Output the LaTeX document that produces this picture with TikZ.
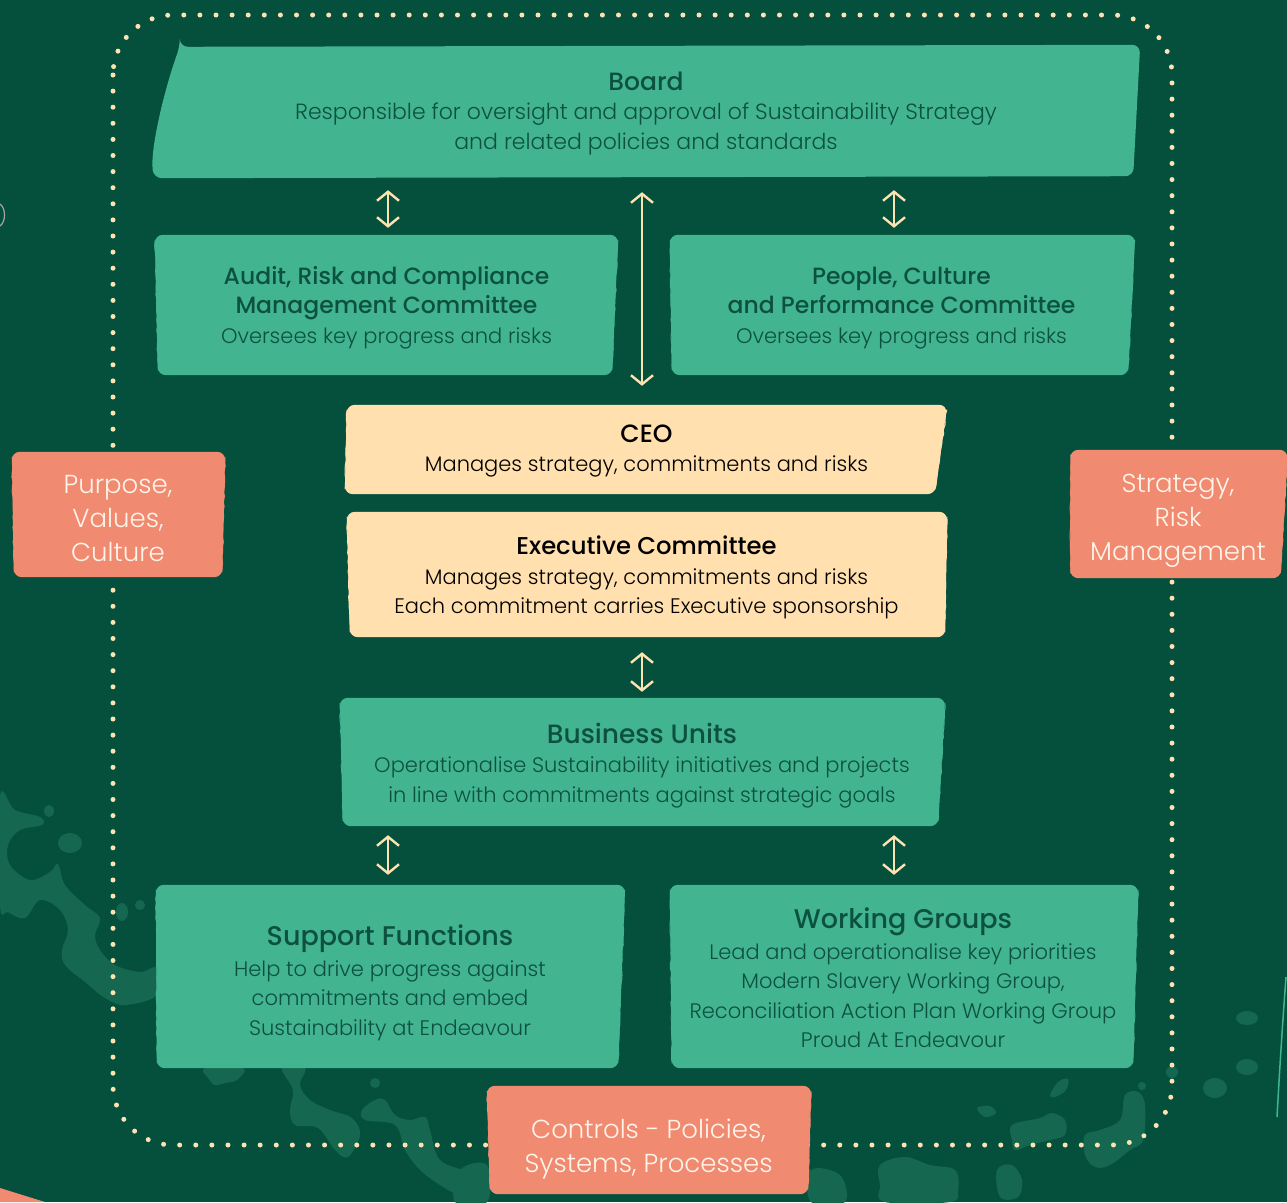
\documentclass[tikz,border=0pt]{standalone}
\usepackage{fontspec}
\setmainfont{Poppins Light}
\newfontfamily\medf{Poppins Medium}
\usetikzlibrary{arrows.meta,calc,decorations.pathmorphing}
\pgfdeclarelayer{backg}
\pgfdeclarelayer{boxes}
\pgfsetlayers{backg,boxes,main}
\definecolor{bgc}{HTML}{04503D}
\definecolor{boxg}{HTML}{42B48F}
\definecolor{boxtxt}{HTML}{0C5140}
\definecolor{creamc}{HTML}{FFE0AE}
\definecolor{salmonc}{HTML}{F08A70}
\definecolor{salmontxt}{HTML}{FFF4EA}
\definecolor{dotcol}{HTML}{FDE3B1}
\definecolor{blobc}{HTML}{15684F}
\tikzset{
  tealbox/.style={inner sep=0pt, text=boxtxt, align=center,
    font=\fontsize{21}{29.5}\selectfont},
  yellowbox/.style={inner sep=0pt, text=black, align=center,
    font=\fontsize{21}{29.5}\selectfont},
  salmonbox/.style={inner sep=0pt, text=salmontxt, align=center,
    font=\fontsize{26}{34}\selectfont},
  dar/.style={draw=dotcol, line width=2.4pt,
    {Straight Barb[length=9pt,width=22pt,line width=2.4pt]}-{Straight Barb[length=9pt,width=22pt,line width=2.4pt]}},
  blob/.style={fill=blobc},
  frame/.style={draw=dotcol, line width=5pt, line cap=round, dash pattern=on 0pt off 16.1pt, rounded corners=60pt},
  rough/.style={line width=1pt, decorate, decoration={random steps, segment length=5pt, amplitude=0.7pt}}
}
\newcommand{\ttl}[2][25]{{\medf\fontsize{#1}{29.5}\selectfont #2}}
\newcommand{\tb}[2]{\raisebox{-#1pt}[\height][\depth]{\begin{tabular}{@{}c@{}}#2\end{tabular}}}
% brush-like box fill behind node: node, colour, insets tl, tr, br, bl
\newcommand{\brush}[6]{%
  \begin{pgfonlayer}{boxes}
  \fill[#2, rounded corners=8pt] ($(#1.north west)+(#3,0)$) -- ($(#1.north east)+(-#4,0)$)
     -- ($(#1.south east)+(-#5,0)$) -- ($(#1.south west)+(#6,0)$) -- cycle;
  \draw[#2, rough] ($(#1.north east)+(-#4-0.4,5)$) -- ($(#1.south east)+(-#5-0.4,-5)$);
  \draw[#2, rough] ($(#1.south west)+(#6+0.4,-5)$) -- ($(#1.north west)+(#3+0.4,5)$);
  \end{pgfonlayer}}
\begin{document}
\begin{tikzpicture}[x=1pt,y=-1pt]
\useasboundingbox (0,0) rectangle (1287,1202);
\begin{pgfonlayer}{backg}
\fill[bgc] (0,0) rectangle (1287,1202);
% decorative blobs
\fill[blob] plot[smooth cycle, tension=0.6] coordinates {(0,796) (15,810) (40,817) (42,825) (20,830) (8,845) (10,865) (30,880) (50,872) (58,864) (65,885) (85,905) (100,918) (95,935) (100,950) (115,965) (140,972) (157,968) (157,995) (125,1005) (105,998) (85,982) (65,965) (62,950) (68,930) (60,910) (40,900) (25,918) (8,912) (0,905)};
\fill[blob] (49,811) ellipse [x radius=5, y radius=6];
\fill[blob] (70,843) ellipse [x radius=12, y radius=10];
\fill[blob] (122,912) ellipse [x radius=6, y radius=9];
\fill[blob] (140,905) circle [radius=5];
\fill[blob] plot[smooth cycle, tension=0.6] coordinates {(205,1068) (243,1068) (237,1080) (225,1083) (215,1085) (208,1078)};
\fill[blob] plot[smooth cycle, tension=0.6] coordinates {(282,1068) (305,1068) (300,1085) (310,1100) (330,1110) (352,1118) (360,1135) (348,1157) (335,1150) (318,1128) (295,1125) (290,1110) (293,1090)};
\fill[blob] plot[smooth cycle, tension=0.6] coordinates {(375,1100) (385,1100) (395,1115) (410,1120) (425,1117) (430,1130) (440,1160) (470,1172) (487,1180) (487,1195) (460,1195) (440,1185) (420,1170) (405,1150) (395,1125) (365,1120) (362,1110)};
\fill[blob] (375,1083) circle [radius=5];
\fill[blob] plot[smooth cycle, tension=0.6] coordinates {(460,1170) (487,1165) (487,1202) (455,1202)};
\fill[blob] plot[smooth cycle, tension=0.6] coordinates {(811,1170) (840,1175) (845,1202) (811,1202)};
\fill[blob] plot[smooth cycle, tension=0.6] coordinates {(880,1165) (905,1157) (930,1165) (955,1170) (958,1190) (950,1202) (885,1202) (880,1185)};
\fill[blob] plot[smooth cycle, tension=0.6] coordinates {(997,1170) (1012,1165) (1022,1180) (1018,1197) (1000,1197)};
\fill[blob] plot[smooth cycle, tension=0.6] coordinates {(1012,1125) (1040,1118) (1052,1113) (1065,1120) (1065,1135) (1050,1140) (1030,1145) (1015,1150) (1012,1140)};
\fill[blob] plot[smooth cycle, tension=0.6] coordinates {(1085,1135) (1100,1130) (1120,1120) (1125,1095) (1138,1092) (1145,1105) (1143,1140) (1130,1150) (1110,1165) (1095,1167) (1085,1155)};
\fill[blob] plot[smooth cycle, tension=0.6] coordinates {(1050,1095) (1058,1082) (1068,1079) (1066,1090) (1055,1097)};
\fill[blob] plot[smooth cycle, tension=0.6] coordinates {(977,1108) (990,1106) (996,1113) (985,1117)};
\fill[blob] (1215,1088) ellipse [x radius=12, y radius=10];
\fill[blob] (1247,1067) ellipse [x radius=11, y radius=8];
\fill[blob] (1247,1018) ellipse [x radius=11, y radius=7];
\fill[blob] (1172,1072) circle [radius=6];
\fill[blob] (1142,1086) circle [radius=4];
\draw[boxg, line width=1.5pt] (1286,977) .. controls (1282,1030) and (1279,1080) .. (1277,1117);
\draw[gray!70, line width=1.2pt] (0,204) .. controls (6,208) and (6,222) .. (0,226);
\fill[salmonc] (0,1188) -- (45,1202) -- (0,1202) -- cycle;
% dotted frame
\draw[frame] (113,15) rectangle (1172,1145);
\end{pgfonlayer}

% boxes
\node[tealbox, minimum width=988pt, minimum height=133pt, font=\fontsize{22}{29.5}\selectfont] (board) at (646,111.5)
  {\tb{2.5}{\ttl{Board}\\Responsible for oversight and approval of Sustainability Strategy\\and related policies and standards}};
\node[tealbox, minimum width=467pt, minimum height=140pt] (audit) at (386.5,305)
  {\tb{3}{\ttl[23.5]{Audit, Risk and Compliance}\\\ttl[23.5]{Management Committee}\\Oversees key progress and risks}};
\node[tealbox, minimum width=467pt, minimum height=140pt] (people) at (901.5,305)
  {\tb{3}{\ttl[23.5]{People, Culture}\\\ttl[23.5]{and Performance Committee}\\Oversees key progress and risks}};
\node[yellowbox, minimum width=603pt, minimum height=89pt] (ceo) at (646.5,449.5)
  {\tb{1.5}{\ttl[25]{CEO}\\Manages strategy, commitments and risks}};
\node[yellowbox, minimum width=603pt, minimum height=125pt] (exec) at (646.5,574.5)
  {\tb{4}{\ttl[24.3]{Executive Committee}\\Manages strategy, commitments and risks\\Each commitment carries Executive sponsorship}};
\node[tealbox, minimum width=608pt, minimum height=128pt] (bu) at (642,762)
  {\tb{5}{\ttl[26.5]{Business Units}\\Operationalise Sustainability initiatives and projects\\in line with commitments against strategic goals}};
\node[tealbox, minimum width=470pt, minimum height=183pt] (support) at (390,976.5)
  {\tb{8}{\ttl[27]{Support Functions}\\[1pt]Help to drive progress against\\commitments and embed\\Sustainability at Endeavour}};
\node[tealbox, minimum width=470pt, minimum height=183pt] (wg) at (903,976.5)
  {\tb{6}{\ttl[27]{Working Groups}\\[1pt]Lead and operationalise key priorities\\Modern Slavery Working Group,\\Reconciliation Action Plan Working Group\\Proud At Endeavour}};
\node[salmonbox, minimum width=216pt, minimum height=125pt] (purpose) at (118,514.5)
  {\tb{6}{Purpose,\\Values,\\Culture}};
\node[salmonbox, minimum width=219pt, minimum height=128pt] (strategy) at (1178,514)
  {\tb{6}{Strategy,\\Risk\\Management}};
\node[salmonbox, minimum width=325pt, minimum height=108pt] (controls) at (648.5,1140)
  {\tb{9}{Controls - Policies,\\Systems, Processes}};

% brush fills
\begin{pgfonlayer}{boxes}
\fill[boxg, rounded corners=8pt] ($(board.north west)+(28,2)$) -- ($(board.north east)+(0,0)$)
  -- ($(board.south east)+(-7,-2)$) -- ($(board.south west)+(2,0)$)
  .. controls ($(board.south west)+(-2,-30)$) and ($(board.north west)+(14,40)$) .. cycle;
\end{pgfonlayer}
\brush{audit}{boxg}{2}{2}{8}{5}
\brush{people}{boxg}{2}{0}{7}{4}
\brush{ceo}{creamc}{2}{1}{13}{0}
\brush{exec}{creamc}{2}{1}{3}{5}
\brush{bu}{boxg}{2}{1}{8}{5}
\brush{support}{boxg}{1}{0}{7}{2}
\brush{wg}{boxg}{2}{0}{5}{4}
\brush{purpose}{salmonc}{2}{1}{4}{4}
\brush{strategy}{salmonc}{2}{0}{7}{2}
\brush{controls}{salmonc}{1}{0}{3}{4}

% connectors
\draw[dar, shorten <=12pt, shorten >=7pt] ([xshift=1.5pt]audit.north |- board.south) -- ([xshift=1.5pt]audit.north);
\draw[dar, shorten <=12pt, shorten >=7pt] ([xshift=-7.5pt]people.north |- board.south) -- ([xshift=-7.5pt]people.north);
\draw[dar, shorten <=14pt, shorten >=19pt] ([xshift=-4.5pt]ceo.north |- board.south) -- ([xshift=-4.5pt]ceo.north);
\draw[dar, shorten <=15pt, shorten >=6pt] ([xshift=-4.5pt]exec.south) -- ([xshift=-4.5pt]exec.south |- bu.north);
\draw[dar, shorten <=9pt, shorten >=10pt] ([xshift=-2pt]support.north |- bu.south) -- ([xshift=-2pt]support.north);
\draw[dar, shorten <=9pt, shorten >=10pt] ([xshift=-9pt]wg.north |- bu.south) -- ([xshift=-9pt]wg.north);
\end{tikzpicture}
\end{document}
